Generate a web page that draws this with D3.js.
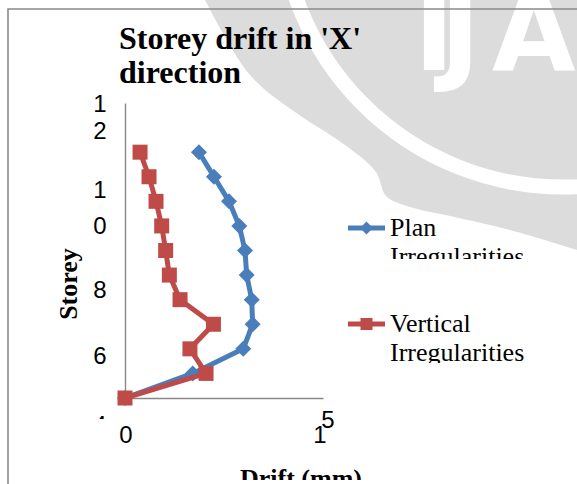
<!DOCTYPE html>
<html><head><meta charset="utf-8">
<script src="https://cdn.jsdelivr.net/npm/d3@7"></script>
<style>html,body{margin:0;padding:0;background:#fff;}svg{display:block;}</style>
</head><body>
<div id="chart"></div>
<script>
// ---- data ----
const storeys = [0, 1, 2, 3, 4, 5, 6, 7, 8, 9, 10];
const planDrift = [0, 5.13, 8.96, 9.67, 9.6, 9.22, 9.09, 8.66, 7.88, 6.74, 5.6];
const verticalDrift = [0, 6.14, 4.92, 6.7, 4.17, 3.36, 3.08, 2.78, 2.35, 1.82, 1.14];
const seriesNames = ["Plan Irregularities", "Vertical Irregularities"];
const yTickValues = [4, 6, 8, 10, 12];
const yTickLabels = ["4", "6", "8", "10", "12"];
const xTickValues = [0, 15];
const xTickLabels = ["0", "15"];
const titleLines = ["Storey drift in 'X'", "direction"];
const xTitle = "Drift (mm)";
const yTitle = "Storey";

const W = 577, H = 484;
const svg = d3.select("#chart").append("svg").attr("width", W).attr("height", H);
svg.append("rect").attr("width", W).attr("height", H).attr("fill", "#fff");
const defs = svg.append("defs");

// ---- watermark ----
const wm = svg.append("g");
const boundary = [[205,0],[250,75],[295,112],[345,145],[376,172],[386,196],[410,207],[450,216],[510,230],[577,250]];
defs.append("clipPath").attr("id","wmclip").append("path")
  .attr("d", d3.line().curve(d3.curveCatmullRom)(boundary) + "L577,0Z");
const wmg = wm.append("g").attr("clip-path","url(#wmclip)");
wmg.append("rect").attr("width", W).attr("height", H).attr("fill", "#dcdcdc");
wmg.append("circle").attr("cx", 563).attr("cy", -96).attr("r", 283)
  .attr("fill","none").attr("stroke","#fff").attr("stroke-width", 15);
const ija = [["I",414],["J",440],["A",492]];
wmg.selectAll("text.ija").data(ija).join("text").attr("class","ija")
  .attr("x", d => d[1]).attr("y", 70).text(d => d[0])
  .attr("font-family","DejaVu Sans").attr("font-weight","bold").attr("font-size",108)
  .attr("fill","#fff");

// frame
svg.append("path").attr("d","M8,484V9H577").attr("fill","none").attr("stroke","#8a8a8a").attr("stroke-width",1.6);

// ---- scales ----
const x = d3.scaleLinear().domain([0, 15]).range([125, 323]);
const y = d3.scaleLinear().domain([0, 12]).range([398, 103]);

const axisColor = "#888";
const gx = svg.append("g").attr("transform", `translate(0,${y(0)})`)
  .call(d3.axisBottom(x).tickValues([]).tickSizeOuter(0));
const gy = svg.append("g").attr("transform", `translate(${x(0)},0)`)
  .call(d3.axisLeft(y).tickValues([]).tickSizeOuter(0));
[gx, gy].forEach(g => g.select(".domain").attr("stroke", axisColor).attr("stroke-width", 1.4));

// ---- y tick labels (Excel wrapped them, one character per line) ----
const labelFont = "Liberation Sans";
defs.append("clipPath").attr("id","ylabclip").append("rect").attr("x",0).attr("y",0).attr("width",W).attr("height",419);
const labelLayout = d3.scaleLinear().domain([4, 6, 8, 10, 12]).range([425, 356, 290, 208, 117.5]);
const ylab = svg.append("g").attr("clip-path","url(#ylabclip)");
yTickValues.forEach((v, i) => {
  const chars = yTickLabels[i].split("");
  const lh = chars.length > 1 ? (v === 12 ? 27 : 36) : 0;
  const c = labelLayout(v);
  chars.forEach((ch, j) => {
    ylab.append("text").attr("x", 100).attr("y", c - (chars.length - 1) * lh / 2 + j * lh)
      .attr("dy", "0.35em").attr("text-anchor", "middle")
      .attr("font-family", labelFont).attr("font-size", 24).attr("fill", "#000").text(ch);
  });
});

// ---- x tick labels ----
xTickValues.forEach((v, i) => {
  const chars = xTickLabels[i].split("");
  if (chars.length === 1) {
    svg.append("text").attr("x", x(v) + 1).attr("y", 435).attr("dy","0.35em").attr("text-anchor","middle")
      .attr("font-family", labelFont).attr("font-size", 24).text(chars[0]);
  } else {
    svg.append("text").attr("x", x(v) - 3).attr("y", 435).attr("dy","0.35em").attr("text-anchor","middle")
      .attr("font-family", labelFont).attr("font-size", 24).text(chars[0]);
    svg.append("text").attr("x", x(v) + 5).attr("y", 420).attr("dy","0.35em").attr("text-anchor","middle")
      .attr("font-family", labelFont).attr("font-size", 24).text(chars[1]);
  }
});

// ---- titles ----
const serif = "Liberation Serif";
svg.selectAll("text.title").data(titleLines).join("text").attr("class","title")
  .attr("x", 119).attr("y", (d, i) => 49 + i * 34).text(d => d)
  .attr("font-family", serif).attr("font-weight","bold").attr("font-size", 32).attr("fill","#000");

defs.append("clipPath").attr("id","xtclip").append("rect").attr("x",0).attr("y",0).attr("width",W).attr("height",480);
svg.append("text").attr("clip-path","url(#xtclip)").attr("x", 301).attr("y", 487).attr("text-anchor","middle")
  .attr("font-family", serif).attr("font-weight","bold").attr("font-size", 26).text(xTitle);

svg.append("text").attr("transform", "translate(77,284) rotate(-90)").attr("text-anchor","middle")
  .attr("font-family", serif).attr("font-weight","bold").attr("font-size", 26).text(yTitle);

// ---- series ----
const colors = ["#4a7ebb", "#be4b48"];
const diamond = s => `M0,${-s}L${s},0L0,${s}L${-s},0Z`;
const square = s => `M${-s},${-s}H${s}V${s}H${-s}Z`;
const seriesData = [planDrift, verticalDrift];
const markerPaths = [diamond(8), square(7.5)];
seriesData.forEach((vals, si) => {
  const pts = storeys.map((s, i) => ({ s, v: vals[i] }));
  const line = d3.line().x(d => x(d.v)).y(d => y(d.s));
  svg.append("path").datum(pts).attr("d", line).attr("fill","none")
    .attr("stroke", colors[si]).attr("stroke-width", 5).attr("stroke-linejoin","round");
  svg.selectAll(null).data(pts).join("path")
    .attr("transform", d => `translate(${x(d.v)},${y(d.s)})`)
    .attr("d", markerPaths[si]).attr("fill", colors[si]);
});

// ---- legend ----
const legendItems = [
  { lines: ["Plan", "Irregularities"], ly: 228, clip: 259, marker: diamond(6.5) },
  { lines: ["Vertical", "Irregularities"], ly: 324, clip: 363, marker: square(6) }
];
legendItems.forEach((it, i) => {
  const g = svg.append("g");
  g.append("line").attr("x1", 348).attr("x2", 385).attr("y1", it.ly).attr("y2", it.ly)
    .attr("stroke", colors[i]).attr("stroke-width", 5);
  g.append("path").attr("transform", `translate(366.5,${it.ly})`).attr("d", it.marker).attr("fill", colors[i]);
  const cid = "legclip" + i;
  defs.append("clipPath").attr("id", cid).append("rect").attr("x",0).attr("y",0).attr("width",W).attr("height",it.clip);
  const t = g.append("text").attr("clip-path", `url(#${cid})`).attr("font-family", serif).attr("font-size", 26).attr("fill","#000");
  it.lines.forEach((ln, j) => {
    t.append("tspan").attr("x", 390).attr("y", it.ly + 8 + j * 29).text(ln);
  });
});
</script>
</body></html>
